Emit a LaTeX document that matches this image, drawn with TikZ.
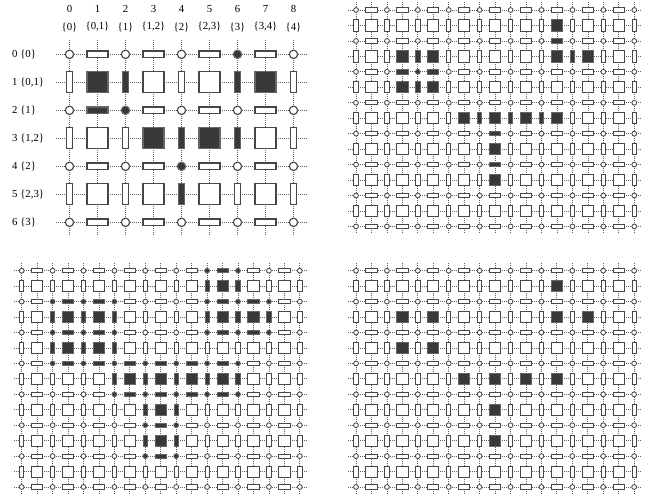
\documentclass[tikz,border=0pt]{standalone}
\usepackage{fontspec}
\setmainfont{Liberation Serif}
\tikzset{
  gridline/.style={draw=black!62, line width=0.75bp, dash pattern=on 0.9bp off 1.1bp},
  cellopen/.style={draw=black!72, fill=white, line width=\celllw},
  cellfull/.style={draw=black!60, fill=black!78, line width=\celllw},
  lbl/.style={inner sep=0pt, font=\fontsize{10.8}{12}\selectfont},
}
\def\celllw{1.1bp}
\newcommand\markcell[3]{\expandafter\gdef\csname F#1-#2-#3\endcsname{}}
\newcommand\marklist[2]{\foreach \rI/\cI in {#2}{\markcell{#1}{\rI}{\cI}}}
\newcommand\markclosure[2]{\foreach \rI/\cI in {#2}{%
  \foreach \dR in {-1,0,1}{\foreach \dC in {-1,0,1}{%
    \pgfmathtruncatemacro\rrI{\rI+\dR}\pgfmathtruncatemacro\ccI{\cI+\dC}%
    \markcell{#1}{\rrI}{\ccI}}}}}
% #1 name #2 x0 #3 y0 #4 spacing #5 max col #6 max row #7 square #8 thickness #9 circle
\newcommand\drawgrid[9]{%
  \foreach \rI in {0,...,#6}{%
    \coordinate (#1-hl\rI) at ({#2-#4/2},{#3+\rI*#4});
    \coordinate (#1-hr\rI) at ({#2+#5*#4+#4/2},{#3+\rI*#4});
    \draw[gridline] (#1-hl\rI) -- (#1-hr\rI);
  }
  \foreach \cI in {0,...,#5}{%
    \coordinate (#1-vt\cI) at ({#2+\cI*#4},{#3-#4/2});
    \coordinate (#1-vb\cI) at ({#2+\cI*#4},{#3+#6*#4+#4/2});
    \draw[gridline] (#1-vt\cI) -- (#1-vb\cI);
  }
  \foreach \rI in {0,...,#6}{\foreach \cI in {0,...,#5}{%
     \ifcsname F#1-\rI-\cI\endcsname \def\cellstyle{cellfull}\else\def\cellstyle{cellopen}\fi
     \ifodd\rI\relax
       \ifodd\cI\relax \def\wI{#7}\def\hI{#7}\def\shp{rectangle}\else \def\wI{#8}\def\hI{#7}\def\shp{rectangle}\fi
     \else
       \ifodd\cI\relax \def\wI{#7}\def\hI{#8}\def\shp{rectangle}\else \def\wI{#9}\def\hI{#9}\def\shp{circle}\fi
     \fi
     \node[\cellstyle, shape=\shp, minimum width=\wI bp, minimum height=\hI bp, inner sep=0pt, outer sep=0pt] (#1-\rI-\cI) at ({#2+\cI*#4},{#3+\rI*#4}) {};
  }}%
}
\marklist{tl}{0/6,1/1,1/2,1/6,1/7,2/1,2/2,3/3,3/4,3/5,3/6,4/4,5/4}
\marklist{tr}{1/13,2/13,3/3,3/4,3/5,3/13,3/14,3/15,4/3,4/4,4/5,5/3,5/4,5/5,7/7,7/8,7/9,7/10,7/11,7/12,7/13,8/9,9/9,10/9,11/9}
\marklist{br}{1/13,3/3,3/5,3/13,3/15,5/3,5/5,7/7,7/9,7/11,7/13,9/9,11/9}
\markclosure{bl}{1/13,3/3,3/5,3/13,3/15,5/3,5/5,7/7,7/9,7/11,7/13,9/9,11/9}
\begin{document}
\begin{tikzpicture}[x=1bp,y=-1bp]
\useasboundingbox (0,0) rectangle (647,497);
% top-left panel
\def\celllw{1.15bp}
\drawgrid{tl}{69.5}{54.3}{28}{8}{6}{21}{6.5}{8.3}
\foreach \cI in {0,...,8} \node[lbl] (tl-num\cI) at ({69.5+\cI*28},9) {\cI};
\foreach \cI/\txt in {0/{\{0\}},1/{\{0,1\}},2/{\{1\}},3/{\{1,2\}},4/{\{2\}},5/{\{2,3\}},6/{\{3\}},7/{\{3,4\}},8/{\{4\}}}
  \node[lbl] (tl-set\cI) at ({69.5+\cI*28},27) {\txt};
\foreach \rI/\txt in {0/{\{0\}},1/{\{0,1\}},2/{\{1\}},3/{\{1,2\}},4/{\{2\}},5/{\{2,3\}},6/{\{3\}}}
  \node[lbl, anchor=west] (tl-row\rI) at (12,{54.3+\rI*28}) {\rI\ \txt};
% small panels
\def\celllw{0.85bp}
\drawgrid{tr}{356}{10}{15.46}{18}{14}{11.2}{4.3}{4.8}
\drawgrid{bl}{21.7}{270.7}{15.45}{18}{14}{11.2}{4.3}{4.8}
\drawgrid{br}{356}{270.7}{15.45}{18}{14}{11.2}{4.3}{4.8}
\end{tikzpicture}
\end{document}
